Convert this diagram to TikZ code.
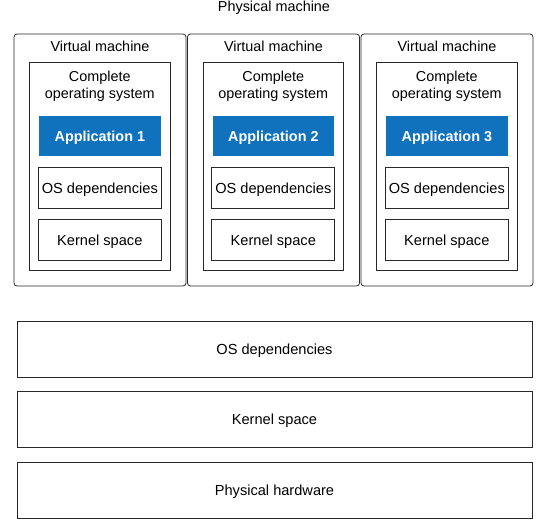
\documentclass[tikz,border=0pt]{standalone}
\usepackage{fontspec}
\setmainfont{Liberation Sans}
\definecolor{appblue}{RGB}{16,114,189}
\definecolor{edge}{RGB}{40,40,40}
\begin{document}
\begin{tikzpicture}[x=1pt,y=-1pt,
  box/.style={draw=edge, line width=0.8pt, inner sep=0pt, outer sep=0pt, anchor=north west, text height=11.2pt, text depth=0pt, font=\fontsize{14.6}{17}\selectfont},
  vmbox/.style={box, rounded corners=3pt},
  appbox/.style={box, draw=none, fill=appblue, text=white, font=\fontsize{14.4}{17}\selectfont\bfseries},
  lbl/.style={font=\fontsize{14.4}{17.3}\selectfont, inner sep=0pt, align=center}]
\useasboundingbox (0,0) rectangle (547,528);
\node[lbl] (pm) at (274,8) {Physical machine};
\foreach \i/\x in {1/14,2/187.5,3/361} {
  \node[vmbox, minimum width=172pt, minimum height=252pt] (vm\i) at (\x,34) {};
  \node[lbl] (vml\i) at (\x+86,46.5) {Virtual machine};
  \node[box, minimum width=140.5pt, minimum height=207.5pt] (os\i) at (\x+15.5,62.5) {};
  \node[lbl] (osl\i) at (\x+85.75,86) {Complete\\operating system};
  \node[appbox, minimum width=121.7pt, minimum height=40pt] (app\i) at (\x+25,116) {Application \i};
  \node[box, minimum width=123pt, minimum height=41.4pt] (dep\i) at (\x+24.3,167.3) {OS dependencies};
  \node[box, minimum width=123pt, minimum height=41.4pt] (ker\i) at (\x+24.3,219.3) {Kernel space};
}
\node[box, minimum width=515pt, minimum height=56pt] (hdep) at (17,321) {OS dependencies};
\node[box, minimum width=515pt, minimum height=56pt] (hker) at (17,391) {Kernel space};
\node[box, minimum width=515pt, minimum height=56pt] (hhw) at (17,462) {Physical hardware};
\end{tikzpicture}
\end{document}
